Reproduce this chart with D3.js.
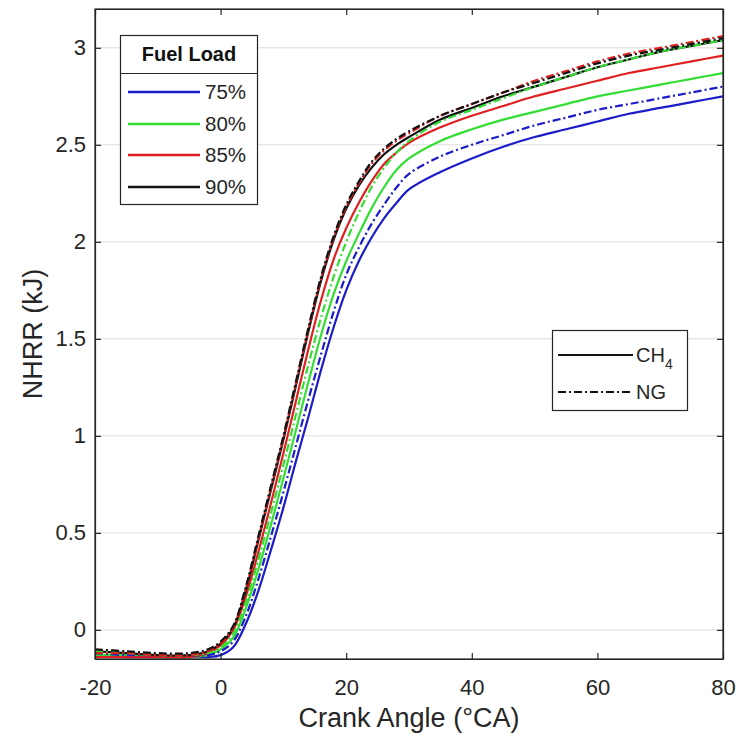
<!DOCTYPE html>
<html><head><meta charset="utf-8">
<script src="https://cdn.jsdelivr.net/npm/d3@7"></script>
<style>body{margin:0;background:#fff}svg{display:block}text{font-family:"Liberation Sans",Arial,sans-serif}</style>
</head><body><svg id="c" width="741" height="744"></svg>
<script>
// ---------- data ----------
const crankAngle = [-20,-15,-10,-5,-2,0,2,4,6,8,10,12,14,16,18,20,22,24,26,28,30,35,40,45,50,55,60,65,70,75,80];
const ch4_75 = [-0.13,-0.14,-0.14,-0.14,-0.14,-0.13,-0.09,0.03,0.20,0.41,0.63,0.87,1.10,1.34,1.56,1.75,1.90,2.02,2.12,2.20,2.27,2.36,2.43,2.49,2.54,2.58,2.62,2.66,2.69,2.72,2.75];
const ch4_80 = [-0.13,-0.13,-0.14,-0.14,-0.13,-0.10,-0.04,0.11,0.31,0.54,0.78,1.03,1.28,1.52,1.73,1.90,2.04,2.17,2.28,2.37,2.43,2.52,2.58,2.63,2.67,2.71,2.75,2.78,2.81,2.84,2.87];
const ch4_85 = [-0.14,-0.14,-0.14,-0.14,-0.12,-0.08,0.00,0.17,0.40,0.65,0.91,1.18,1.45,1.70,1.91,2.07,2.20,2.31,2.40,2.46,2.51,2.59,2.65,2.70,2.75,2.79,2.83,2.87,2.90,2.93,2.96];
const ch4_90 = [-0.11,-0.12,-0.13,-0.13,-0.11,-0.07,0.01,0.20,0.46,0.72,0.98,1.26,1.54,1.80,2.01,2.17,2.29,2.38,2.45,2.50,2.54,2.63,2.69,2.75,2.80,2.85,2.90,2.94,2.98,3.01,3.04];
const ng_75  = [-0.12,-0.13,-0.13,-0.13,-0.13,-0.11,-0.06,0.07,0.26,0.48,0.71,0.95,1.19,1.42,1.64,1.83,1.97,2.09,2.19,2.28,2.35,2.44,2.50,2.55,2.60,2.64,2.68,2.71,2.74,2.77,2.80];
const ng_80  = [-0.11,-0.12,-0.13,-0.13,-0.12,-0.09,-0.02,0.14,0.36,0.60,0.85,1.11,1.37,1.61,1.82,2.00,2.15,2.28,2.38,2.46,2.52,2.62,2.68,2.74,2.80,2.85,2.90,2.94,2.98,3.01,3.04];
const ng_85  = [-0.12,-0.12,-0.13,-0.13,-0.11,-0.07,0.01,0.21,0.47,0.73,0.99,1.27,1.55,1.81,2.02,2.18,2.30,2.40,2.47,2.52,2.56,2.65,2.71,2.77,2.83,2.88,2.93,2.97,3.00,3.03,3.06];
const ng_90  = [-0.10,-0.11,-0.12,-0.12,-0.10,-0.06,0.02,0.22,0.48,0.74,1.00,1.28,1.56,1.82,2.03,2.19,2.31,2.41,2.48,2.53,2.57,2.65,2.71,2.77,2.82,2.87,2.92,2.96,2.99,3.02,3.05];
const fuelLoads = ["75%","80%","85%","90%"];
const fuelColors = ["#1c1cc8","#33dd33","#e02020","#111111"];
const fuelTypes = ["CH4","NG"];
const xTicks = [-20,0,20,40,60,80];
const yTicks = [0,0.5,1,1.5,2,2.5,3];
const xLabel = "Crank Angle (°CA)";
const yLabel = "NHRR (kJ)";
const legendTitle = "Fuel Load";

// ---------- layout ----------
const svg = d3.select("#c");
const L = 95, R = 723, T = 9, B = 659;
const x = d3.scaleLinear().domain([-20,80]).range([L,R]);
const y = d3.scaleLinear().domain([-0.15,3.2]).range([B,T]);
const tickCol = "#262626";
const FF = "Liberation Sans, Arial, sans-serif";

// grid
svg.append("g").selectAll("line").data(yTicks).join("line")
  .attr("x1",L).attr("x2",R).attr("y1",d=>y(d)).attr("y2",d=>y(d))
  .attr("stroke","#dcdcdc").attr("stroke-width",1);

// clip
svg.append("clipPath").attr("id","pc").append("rect").attr("x",L).attr("y",T).attr("width",R-L).attr("height",B-T);

const series = [
  {v:ch4_75,c:0,t:0},{v:ch4_80,c:1,t:0},{v:ch4_85,c:2,t:0},{v:ch4_90,c:3,t:0},
  {v:ng_75,c:0,t:1},{v:ng_80,c:1,t:1},{v:ng_85,c:2,t:1},{v:ng_90,c:3,t:1}
];
const line = d3.line().x((d,i)=>x(crankAngle[i])).y(d=>y(d)).curve(d3.curveCatmullRom.alpha(0.5));
const dashDot = "8,3,2,3";
svg.append("g").attr("clip-path","url(#pc)").selectAll("path").data(series).join("path")
  .attr("d",d=>line(d.v)).attr("fill","none")
  .attr("stroke",d=>fuelColors[d.c]).attr("stroke-width",2.2)
  .attr("stroke-dasharray",d=>d.t===1?dashDot:null);

// axes (inside ticks, box)
const tl = 6;
const xa = d3.axisBottom(x).tickValues(xTicks).tickSizeInner(-tl).tickSizeOuter(0).tickPadding(20).tickFormat(d=>String(d));
const gx = svg.append("g").attr("transform",`translate(0,${B})`).call(xa);
const gxt = svg.append("g").attr("transform",`translate(0,${T})`).call(d3.axisTop(x).tickValues(xTicks).tickSizeInner(-tl).tickSizeOuter(0).tickFormat(""));
const ya = d3.axisLeft(y).tickValues(yTicks).tickSizeInner(-tl).tickSizeOuter(0).tickPadding(9).tickFormat(d=>String(d));
const gy = svg.append("g").attr("transform",`translate(${L},0)`).call(ya);
const gyr = svg.append("g").attr("transform",`translate(${R},0)`).call(d3.axisRight(y).tickValues(yTicks).tickSizeInner(-tl).tickSizeOuter(0).tickFormat(""));
[gx,gxt,gy,gyr].forEach(g=>{
  g.select(".domain").attr("stroke",tickCol).attr("stroke-width",1.2);
  g.selectAll(".tick line").attr("stroke",tickCol).attr("stroke-width",1.2);
  g.selectAll(".tick text").attr("fill",tickCol).attr("font-size",22).attr("font-family",FF);
});
svg.append("rect").attr("x",L).attr("y",T).attr("width",R-L).attr("height",B-T).attr("fill","none").attr("stroke",tickCol).attr("stroke-width",1.2);

// axis labels
svg.append("text").attr("x",(L+R)/2).attr("y",727).attr("text-anchor","middle").attr("font-size",27).attr("fill",tickCol).text(xLabel);
svg.append("text").attr("transform",`translate(42,${(T+B)/2}) rotate(-90)`).attr("text-anchor","middle").attr("font-size",27).attr("fill",tickCol).text(yLabel);

// legend 1: fuel load
const lg = svg.append("g");
lg.append("rect").attr("x",120.5).attr("y",35.5).attr("width",137).attr("height",169).attr("fill","#fff").attr("stroke","#262626").attr("stroke-width",1.2);
lg.append("line").attr("x1",120.5).attr("x2",257.5).attr("y1",73.5).attr("y2",73.5).attr("stroke","#262626").attr("stroke-width",1.2);
lg.append("text").attr("x",189).attr("y",61).attr("text-anchor","middle").attr("font-size",20).attr("font-weight","bold").attr("fill","#111").text(legendTitle);
const ly = [92,124,155,187];
fuelLoads.forEach((f,i)=>{
  lg.append("line").attr("x1",128).attr("x2",200).attr("y1",ly[i]).attr("y2",ly[i]).attr("stroke",fuelColors[i]).attr("stroke-width",2.5);
  lg.append("text").attr("x",205).attr("y",ly[i]+7).attr("font-size",20.5).attr("fill",tickCol).text(f);
});

// legend 2: fuel type
const lg2 = svg.append("g");
lg2.append("rect").attr("x",552.5).attr("y",330.5).attr("width",135).attr("height",80).attr("fill","#fff").attr("stroke","#262626").attr("stroke-width",1.2);
const l2y = [355,392];
fuelTypes.forEach((f,i)=>{
  lg2.append("line").attr("x1",558).attr("x2",633).attr("y1",l2y[i]).attr("y2",l2y[i]).attr("stroke","#111").attr("stroke-width",2)
    .attr("stroke-dasharray",i===1?dashDot:null);
  const t = lg2.append("text").attr("x",636).attr("y",l2y[i]+7).attr("font-size",20).attr("fill",tickCol);
  if(f==="CH4"){ t.append("tspan").text("CH"); t.append("tspan").attr("font-size",14).attr("dy",7).text("4"); }
  else t.text(f);
});
</script></body></html>
